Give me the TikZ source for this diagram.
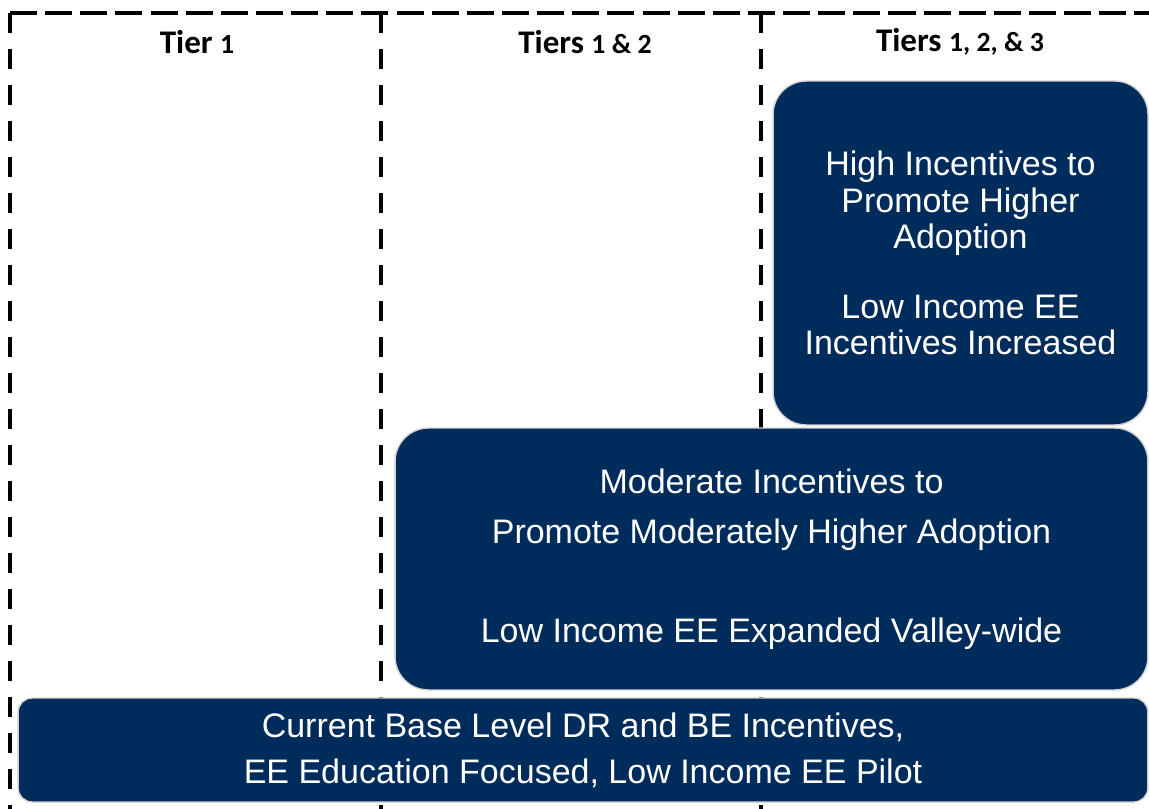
\documentclass[tikz,border=0pt]{standalone}
\usepackage{fontspec}
\setmainfont{Liberation Sans}
\newfontfamily\hdfont{Carlito}
\usepackage{xcolor}
\usetikzlibrary{positioning, calc, backgrounds}
\definecolor{navy}{RGB}{0,44,92}
\newcommand{\dg}[1]{{\fontsize{15.8}{18}\selectfont #1}}
\tikzset{
  tierbox/.style={
    draw=black!18, line width=0.8pt, fill=navy, rounded corners=#1,
    text=white, align=center, inner sep=0pt
  },
  header/.style={
    font=\hdfont\bfseries\fontsize{18.8}{22}\selectfont, inner sep=0pt
  },
  hline/.style={line width=2.3pt, dash pattern=on 15.4pt off 4.6pt},
  vline/.style={line width=2.3pt, dash pattern=on 11.4pt off 9.1pt}
}

\begin{document}
\begin{tikzpicture}[x=0.02cm, y=-0.02cm]
\useasboundingbox (0,0) rectangle (1149,808);

%% Frame and tier dividers
\coordinate (tl) at (10,13);
\coordinate (tr) at (1160,13);
\coordinate (bl) at (10,820);
\draw[hline] (tl) -- (tr);
\draw[vline] (tl) -- (bl);
\foreach \dx [count=\i] in {381,761}
  \draw[vline] (\dx,13) coordinate (d\i top) -- (\dx,820) coordinate (d\i bot);

%% Headers
\node[header] (h1) at (197,42) {Tier \dg{1}};
\node[header] (h2) at (585,42) {Tiers \dg{1 \& 2}};
\node[header] (h3) at (960,42) {Tiers \dg{1, 2, \& 3}};

%% Tier boxes
\node[tierbox=19pt, minimum width=7.5cm, minimum height=6.88cm,
  font=\fontsize{19.35}{20.5}\selectfont] (high) at (960.5,253)
  {High Incentives to\\Promote Higher\\Adoption\\[19.5pt]Low Income EE\\Incentives Increased};
\node[tierbox=19pt, minimum width=15.06cm, minimum height=5.24cm,
  font=\fontsize{19.35}{28.5}\selectfont] (moderate) at (771.5,559)
  {Moderate Incentives to\\Promote Moderately Higher Adoption\\[27.5pt]Low Income EE Expanded Valley-wide};
\node[tierbox=8pt, minimum width=22.6cm, minimum height=2.08cm,
  font=\fontsize{19.35}{26.2}\selectfont] (base) at (583,750)
  {Current Base Level DR and BE Incentives,\\EE Education Focused, Low Income EE Pilot};

\end{tikzpicture}
\end{document}
